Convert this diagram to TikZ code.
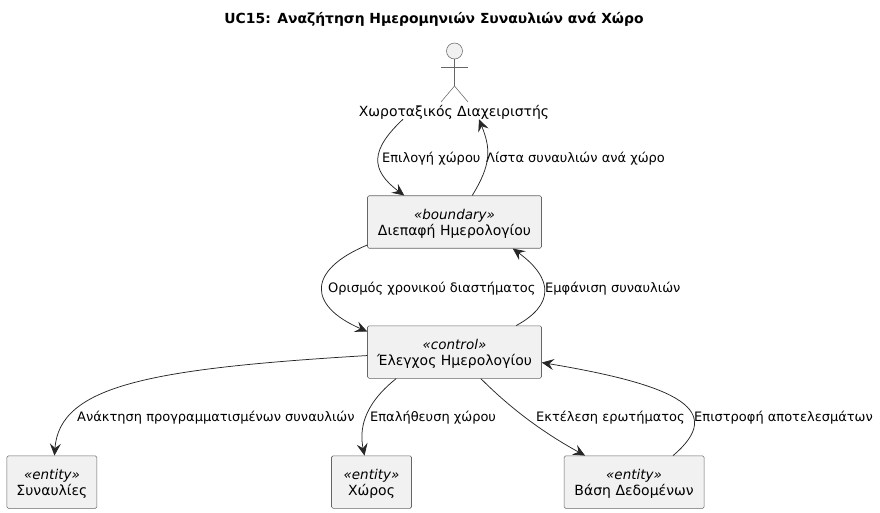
\documentclass[tikz,border=0pt]{standalone}
\usepackage{fontspec}
\setmainfont{DejaVu Sans}
\usetikzlibrary{positioning,arrows.meta}
\newcommand{\boxlines}[2]{\rule{0pt}{14pt}{\fontsize{13.5}{16.5}\selectfont\textit{«#1»}}\\#2}

\begin{document}
\begin{tikzpicture}[
x=1pt,y=-1pt,
boxnode/.style={rectangle, rounded corners=1.5pt, draw=black!60, fill=black!5.5, line width=.55pt, minimum height=52.5pt, inner sep=0pt, align=center, font=\fontsize{14}{16.5}\selectfont},
labelnode/.style={anchor=west, inner sep=0pt, font=\fontsize{13}{15}\selectfont},
conn/.style={-{Stealth[length=12pt,width=11pt,inset=4.5pt]},line width=.75pt,black!85},
stick/.style={draw=black!60,line width=.55pt}
]
\useasboundingbox (0,0) rectangle (880,512);
%Nodes
\node[font=\fontsize{13.9}{16}\selectfont\bfseries] (title) at (434,19.5) {UC15: Αναζήτηση Ημερομηνιών Συναυλιών ανά Χώρο};
\node[circle, stick, fill=black!5.5, minimum size=16pt, inner sep=0pt] (head) at (454.5,51) {};
\coordinate (hip) at (454.5,86);
\coordinate (armleft) at (441,67);
\coordinate (armright) at (468,67);
\coordinate (legleft) at (441,102);
\coordinate (legright) at (468,102);
\node[inner sep=0pt, font=\fontsize{14}{16}\selectfont] (manager) at (454,112) {Χωροταξικός Διαχειριστής};
\node[boxnode, minimum width=174pt] (boundary) at (454.5,222) {\boxlines{boundary}{Διεπαφή Ημερολογίου}};
\node[boxnode, minimum width=174pt] (control) [below=77pt of boundary] {\boxlines{control}{Έλεγχος Ημερολογίου}};
\node[boxnode, minimum width=80pt] (place) [below=77pt of control, xshift=-83pt] {\boxlines{entity}{Χώρος}};
\node[boxnode, minimum width=90pt] (concerts) [left=234pt of place] {\boxlines{entity}{Συναυλίες}};
\node[boxnode, minimum width=140pt] (database) [right=152pt of place] {\boxlines{entity}{Βάση Δεδομένων}};
%Labels
\node[labelnode] (choose) at (382,159) {Επιλογή χώρου};
\node[labelnode] (list) at (486,159) {Λίστα συναυλιών ανά χώρο};
\node[labelnode] (range) at (328,289) {Ορισμός χρονικού διαστήματος};
\node[labelnode] (show) at (545,289) {Εμφάνιση συναυλιών};
\node[labelnode] (fetch) at (77,418) {Ανάκτηση προγραμματισμένων συναυλιών};
\node[labelnode] (check) at (370,418) {Επαλήθευση χώρου};
\node[labelnode] (query) at (536,418) {Εκτέλεση ερωτήματος};
\node[labelnode] (result) at (694,418) {Επιστροφή αποτελεσμάτων};
%Lines
\draw[stick] (head) -- (hip);
\draw[stick] (armleft) -- (armright);
\draw[stick] (legleft) -- (hip) -- (legright);
\draw[conn] ([xshift=-51pt]manager.south) .. controls +(-32,30) and +(-35,-26) .. ([xshift=-137.5pt]boundary.north east);
\draw[conn] ([xshift=105pt]boundary.north west) .. controls +(19,-31) and +(12,30) .. ([xshift=25pt]manager.south);
\draw[conn] ([yshift=3.5pt]boundary.south west) .. controls +(-60,25) and +(-60,-26) .. ([yshift=-6pt]control.north west);
\draw[conn] ([xshift=149pt]control.north west) .. controls +(37,-20) and +(42,31) .. ([xshift=-29pt]boundary.south east);
\draw[conn] ([yshift=-3.5pt]control.west) .. controls +(-217,13) and +(5,-70) .. ([xshift=2.5pt]concerts.north);
\draw[conn] ([xshift=29pt]control.south west) .. controls +(-34,27) and +(-5,-25) .. ([xshift=-7pt]place.north);
\draw[conn] ([xshift=-61pt]control.south east) .. controls +(30,30) and +(-42,-23) .. ([xshift=-49pt]database.north);
\draw[conn] ([xshift=39pt]database.north) .. controls +(53,-45) and +(138,23) .. ([yshift=-10.5pt]control.east);
\end{tikzpicture}
\end{document}
